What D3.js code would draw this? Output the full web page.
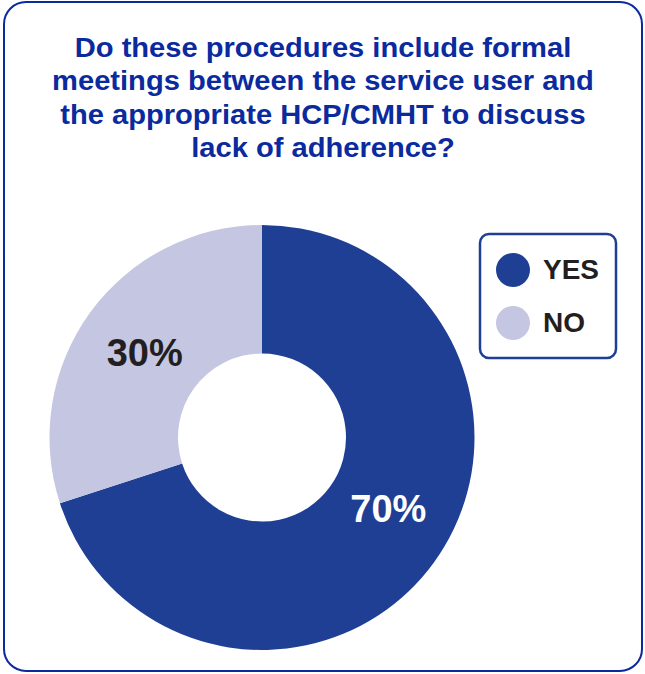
<!DOCTYPE html>
<html><head><meta charset="utf-8">
<script src="https://cdn.jsdelivr.net/npm/d3@7"></script>
<style>html,body{margin:0;padding:0;background:#fff;}</style>
</head><body>
<svg id="c" width="645" height="674"></svg>
<script>
const categories = ["YES", "NO"];
const values = [70, 30];
const labels = ["70%", "30%"];
const titleLines = ["Do these procedures include formal", "meetings between the service user and", "the appropriate HCP/CMHT to discuss", "lack of adherence?"];

const colors = d3.scaleOrdinal().domain(categories).range(["#1e3f94", "#c5c6e2"]);
const labelColors = d3.scaleOrdinal().domain(categories).range(["#ffffff", "#231f20"]);
const font = "Liberation Sans, Arial, Helvetica, sans-serif";

const svg = d3.select("#c");
svg.append("rect").attr("x", 4).attr("y", 2).attr("width", 638).attr("height", 669)
  .attr("rx", 22).attr("fill", "#fff").attr("stroke", "#0a2a9e").attr("stroke-width", 2);

svg.append("g").attr("transform", "translate(323,0) scale(1.04,1)")
  .selectAll("text").data(titleLines).join("text")
  .attr("x", 0).attr("y", (d, i) => 57 + i * 33.4)
  .attr("text-anchor", "middle")
  .attr("font-family", font)
  .attr("font-weight", "bold").attr("font-size", 28)
  .attr("fill", "#0a2a9e").text(d => d);

const cx = 262, cy = 437.5, R = 212.5, r = 84;
const data = categories.map((c, i) => ({cat: c, value: values[i], label: labels[i]}));
const pie = d3.pie().value(d => d.value).sort(null);
const arc = d3.arc().innerRadius(r).outerRadius(R);
const g = svg.append("g").attr("transform", `translate(${cx},${cy})`);
const arcs = pie(data);
g.selectAll("path").data(arcs).join("path").attr("d", arc).attr("fill", d => colors(d.data.cat));

const labelR = 145;
const nudge = {YES: -6.6 * Math.PI / 180, NO: 0};
g.selectAll("text").data(arcs).join("text")
  .attr("transform", d => {
    const a = (d.startAngle + d.endAngle) / 2 + nudge[d.data.cat];
    return `translate(${labelR * Math.sin(a)},${-labelR * Math.cos(a)})`;
  })
  .attr("text-anchor", "middle").attr("dy", "0.36em")
  .attr("font-family", font)
  .attr("font-weight", "bold").attr("font-size", 38)
  .attr("fill", d => labelColors(d.data.cat)).text(d => d.data.label);

const leg = svg.append("g");
leg.append("rect").attr("x", 480).attr("y", 234).attr("width", 136).attr("height", 124)
  .attr("rx", 9).attr("fill", "#fff").attr("stroke", "#1e3f94").attr("stroke-width", 2.5);
const items = leg.selectAll("g.item").data(categories).join("g").attr("class", "item")
  .attr("transform", (d, i) => `translate(513,${270 + i * 53})`);
items.append("circle").attr("r", 17).attr("fill", d => colors(d));
items.append("text").attr("x", 30).attr("y", 9)
  .attr("font-family", font)
  .attr("font-weight", "bold").attr("font-size", 28)
  .attr("fill", "#231f20").text(d => d);
</script>
</body></html>
